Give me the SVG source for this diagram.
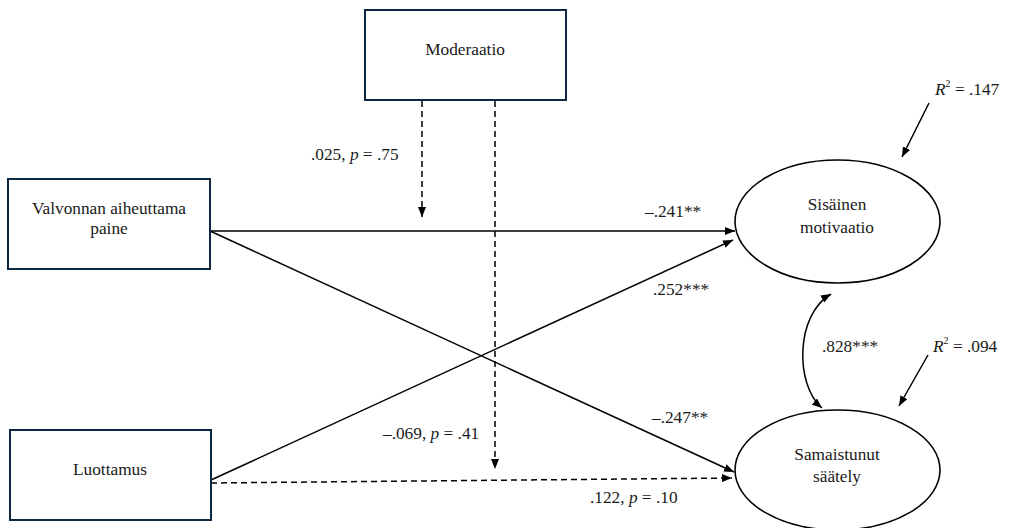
<svg xmlns="http://www.w3.org/2000/svg" width="1010" height="528" viewBox="0 0 1010 528" font-family="'Liberation Serif', 'Times New Roman', 'DejaVu Serif', serif">
<defs>
<style>
.box{fill:#fff;stroke:#0e2841;stroke-width:2}
.ell{fill:#fff;stroke:#000;stroke-width:1.6}
text{font-family:'Liberation Serif','Times New Roman','DejaVu Serif',serif;font-size:17.3px;fill:#1a1a1a}
.c{text-anchor:middle}
.ln{fill:none;stroke:#000;stroke-width:1.5}
.d{stroke-dasharray:6 4}
.i{font-style:italic}
</style>
<marker id="ah" viewBox="0 0 10 8" refX="10" refY="4" markerWidth="10" markerHeight="8" markerUnits="userSpaceOnUse" orient="auto-start-reverse">
<path d="M0,0 L10,4 L0,8 z" fill="#000"/>
</marker>
</defs>
<rect width="1010" height="528" fill="#fff"/>
<g id="connectors">
<line class="ln" x1="210" y1="231" x2="735" y2="231" marker-end="url(#ah)"/>
<line class="ln" x1="210" y1="231" x2="734" y2="472" marker-end="url(#ah)"/>
<line class="ln" x1="211" y1="480" x2="733" y2="240" marker-end="url(#ah)"/>
<line class="ln d" x1="211" y1="483" x2="732" y2="478" marker-end="url(#ah)"/>
<line class="ln d" x1="422" y1="101" x2="422" y2="217" marker-end="url(#ah)"/>
<line class="ln d" x1="495" y1="101" x2="495" y2="469" marker-end="url(#ah)"/>
<path class="ln" d="M831,294 C795,315 795,385 822,408" marker-start="url(#ah)" marker-end="url(#ah)"/>
<line class="ln" x1="929" y1="103" x2="902" y2="157" marker-end="url(#ah)"/>
<line class="ln" x1="928" y1="355" x2="899" y2="406" marker-end="url(#ah)"/>
</g>
<g id="labels">
<text x="311" y="160">.025, <tspan class="i">p</tspan> = .75</text>
<text x="645" y="217">–.241**</text>
<text x="653" y="295">.252***</text>
<text x="652" y="423">–.247**</text>
<text x="383" y="439">–.069, <tspan class="i">p</tspan> = .41</text>
<text x="590" y="503">.122, <tspan class="i">p</tspan> = .10</text>
<text x="822" y="352">.828***</text>
<text x="935" y="95"><tspan class="i">R</tspan><tspan font-size="10" dy="-8">2</tspan><tspan dy="8"> = .147</tspan></text>
<text x="933" y="352"><tspan class="i">R</tspan><tspan font-size="10" dy="-8">2</tspan><tspan dy="8"> = .094</tspan></text>
</g>
<g id="moderaatio">
<rect class="box" x="365" y="10" width="201" height="90"/>
<text class="c" x="465" y="55">Moderaatio</text>
</g>
<g id="valvonnan">
<rect class="box" x="8" y="179" width="202" height="90"/>
<text class="c" x="109" y="214">Valvonnan aiheuttama</text>
<text class="c" x="109" y="234">paine</text>
</g>
<g id="luottamus">
<rect class="box" x="10" y="430" width="201" height="90"/>
<text class="c" x="110" y="475">Luottamus</text>
</g>
<g id="sisainen">
<ellipse class="ell" cx="837.5" cy="221.5" rx="102.5" ry="61.5"/>
<text class="c" x="837" y="210">Sisäinen</text>
<text class="c" x="837" y="233">motivaatio</text>
</g>
<g id="samaistunut">
<ellipse class="ell" cx="837.5" cy="470" rx="102.5" ry="60"/>
<text class="c" x="837" y="460">Samaistunut</text>
<text class="c" x="837" y="482">säätely</text>
</g>
</svg>
